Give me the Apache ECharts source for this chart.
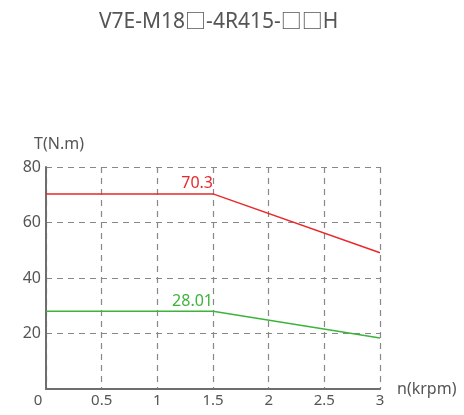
<!DOCTYPE html>
<html><head><meta charset="utf-8">
<script src="https://cdn.jsdelivr.net/npm/echarts@6/dist/echarts.min.js"></script>
<style>html,body{margin:0;padding:0;background:#fff}#c{width:464px;height:415px}</style>
</head><body><div id="c"></div>
<script>
const titleText = 'V7E-M18□-4R415-□□H';
const xTicks = [0, 0.5, 1, 1.5, 2, 2.5, 3];
const redX = [0, 1.5, 3];
const redY = [70.3, 70.3, 49.1];
const greenX = [0, 1.5, 3];
const greenY = [28.01, 28.01, 18.4];
const labelIndex = 1;

const font = "'Noto Sans', 'Noto Sans CJK SC', sans-serif";
function pts(xs, ys){ return xs.map((x,i)=>[x, ys[i]]); }
function mkSeries(xs, ys, color){
  return {
    type:'line', data: pts(xs, ys).map((p,i)=>({value:p, label:{show:i===labelIndex}})),
    showSymbol:true, symbol:'circle', symbolSize:0.1, lineStyle:{color, width:1.5}, itemStyle:{color},
    label:{show:false, position:'top', align:'right', color, fontSize:16, fontFamily:font, offset:[0,3], formatter: p=>String(p.value[1])},
    animation:false
  };
}
const chart = echarts.init(document.getElementById('c'));
chart.setOption({
  animation:false,
  title:{text:titleText, left:94, top:7, textStyle:{fontSize:21, fontWeight:'normal', color:'#555', fontFamily:font}},
  grid:{left:46, right:84, top:167, bottom:26, containLabel:false},
  xAxis:{type:'value', min:0, max:3, interval:0.5, name:'n(krpm)', nameGap:17,
    nameTextStyle:{fontSize:16, color:'#555', fontFamily:font},
    axisLine:{lineStyle:{color:'#6e6e6e', width:2}}, axisTick:{show:false},
    axisLabel:{fontSize:15, color:'#555', fontFamily:font, margin:4,
      formatter:v=> v===0 ? '{z|0}' : String(v), rich:{z:{fontSize:15, color:'#555', fontFamily:font, padding:[0,16,0,0]}}},
    splitLine:{show:true, lineStyle:{type:[6,5], color:'#888', width:1.2}}},
  yAxis:{type:'value', min:0, max:80, interval:20, name:'T(N.m)', nameGap:15,
    nameTextStyle:{fontSize:16, color:'#555', fontFamily:font, padding:[0,0,0,26]},
    axisLine:{show:true, lineStyle:{color:'#6e6e6e', width:2}}, axisTick:{show:false},
    axisLabel:{fontSize:16, color:'#555', fontFamily:font, margin:5, formatter:v=> v===0 ? '' : String(v)},
    splitLine:{show:true, lineStyle:{type:[6,5], color:'#888', width:1.2}}},
  series:[mkSeries(redX, redY, '#e8292b'), mkSeries(greenX, greenY, '#3cb43c')]
});
</script></body></html>
